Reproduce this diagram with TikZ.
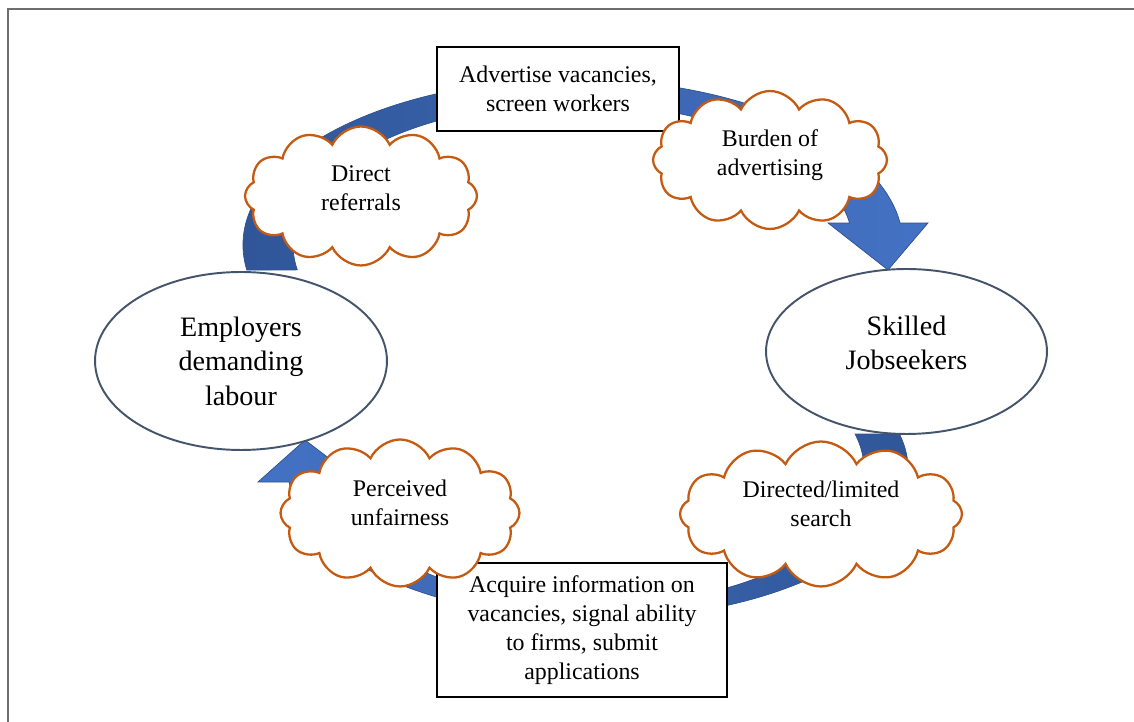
\documentclass[tikz,border=0pt]{standalone}
\usepackage{fontspec}
\setmainfont{Liberation Serif}
\usetikzlibrary{shapes.geometric,shapes.symbols,calc}

\definecolor{bandlight}{HTML}{4472C4}
\definecolor{banddark}{HTML}{2F5597}
\definecolor{bandline}{HTML}{2F528F}
\definecolor{ovalline}{HTML}{44546A}
\definecolor{cloudline}{HTML}{C55A11}
\definecolor{framegray}{HTML}{6E6E6E}

\begin{document}
\begin{tikzpicture}[
  x=0.02cm, y=-0.02cm,
  oval/.style={draw=ovalline, line width=1.1pt, fill=white, ellipse, align=center,
    font=\fontsize{16}{19.6}\selectfont},
  textbox/.style={draw=black, line width=0.7pt, fill=white, align=center,
    font=\fontsize{13.6}{16.6}\selectfont},
  puff/.style={draw=cloudline, line width=1.3pt, fill=white, cloud, cloud puffs=12,
    cloud puff arc=130, cloud ignores aspect, align=center, inner sep=0pt,
    text depth=0.3cm, font=\fontsize{13.6}{16.6}\selectfont},
  band/.style={draw=bandline, line width=0.4pt}
]
\useasboundingbox (0,0) rectangle (1134,722);
% Frame
\draw[framegray, line width=0.8pt] (8,722) -- (8,9) -- (1134,9);

% Centres of the two curved arrows
\coordinate (topc) at (573,245);
\coordinate (botc) at (598,469);
\coordinate (toptip) at (888,270);
\coordinate (bottip) at (305,440);

% Upper arrow: employers -> jobseekers
\path[band, left color=banddark, right color=bandlight]
  ($(topc)+(171.3:330 and 166)$)
    arc[start angle=171.3, end angle=352.4, x radius=330, y radius=166]
  -- (928,223) -- (toptip) -- (828,223)
  -- ($(topc)+(351.1:280 and 142)$)
    arc[start angle=351.1, end angle=169.9, x radius=280, y radius=142]
  -- cycle;

% Lower arrow: jobseekers -> employers
\path[band, left color=bandlight, right color=banddark]
  ($(botc)+(-13.5:310 and 150)$)
    arc[start angle=-13.5, end angle=175, x radius=310, y radius=150]
  -- (258,482) -- (bottip) -- (355,478)
  -- ($(botc)+(175.4:266 and 136)$)
    arc[start angle=175.4, end angle=-14.9, x radius=266, y radius=136]
  -- cycle;

% Two sides of the market
\node[oval, minimum width=5.84cm, minimum height=3.56cm] (employers) at (241,361)
  {Employers\\demanding\\labour};
\node[oval, minimum width=5.62cm, minimum height=3.3cm, text depth=0.35cm] (seekers) at (906.5,351.5)
  {Skilled\\Jobseekers};

% What each side does
\node[textbox, minimum width=4.84cm, minimum height=1.68cm] (advertise) at (558,89)
  {Advertise vacancies,\\screen workers};
\node[textbox, minimum width=5.8cm, minimum height=2.68cm] (acquire) at (582,630)
  {Acquire information on\\vacancies, signal ability\\to firms, submit\\applications};

% Frictions
\node[puff, minimum width=4.64cm, minimum height=2.78cm] (referrals) at (361,196)
  {Direct\\referrals};
\node[puff, minimum width=4.68cm, minimum height=2.76cm] (burden) at (770,160)
  {Burden of\\advertising};
\node[puff, minimum width=4.78cm, minimum height=2.94cm, text depth=0.42cm] (unfair) at (400,513)
  {Perceived\\unfairness};
\node[puff, minimum width=5.64cm, minimum height=2.9cm, text depth=0.42cm] (search) at (821,514)
  {Directed/limited\\search};
\end{tikzpicture}
\end{document}
